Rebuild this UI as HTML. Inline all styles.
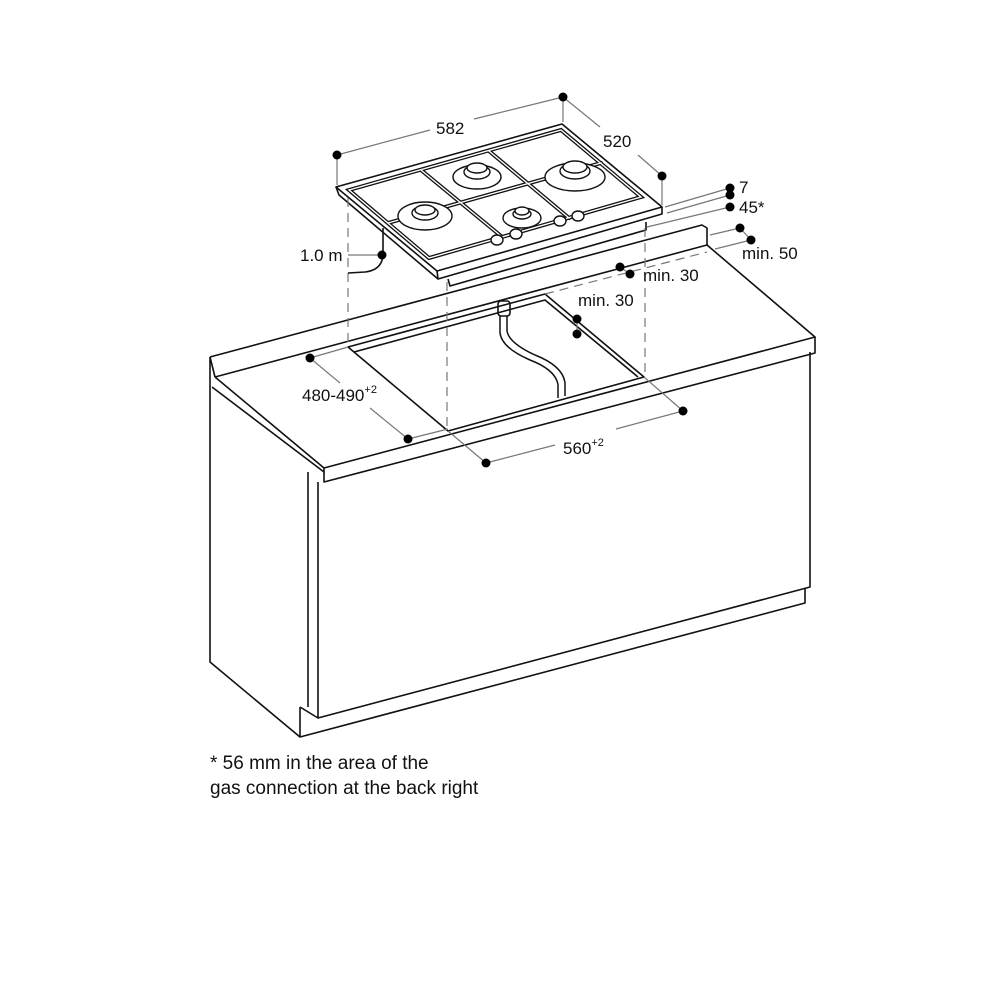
<!DOCTYPE html>
<html><head><meta charset="utf-8"><style>
html,body{margin:0;padding:0;background:#fff}
svg{display:block}
text{font-family:"Liberation Sans",Arial,sans-serif;fill:#111}
</style></head><body>
<svg width="1000" height="1000" viewBox="0 0 1000 1000" xmlns="http://www.w3.org/2000/svg">
<g fill="none" stroke="#111" stroke-width="1.6" stroke-linejoin="round">
<polyline points="210,357 702,225 707,228 707,245"/>
<polyline points="210,357 210,662 300,737"/>
<polyline points="215,377 707,245"/>
<line x1="210" y1="357" x2="215" y2="377"/>
<polyline points="215,377 324,468 815,337 707,245"/>
<polyline points="212,387 324,472"/>
<polyline points="324,468 324,482 815,353 815,337"/>
<line x1="308" y1="472" x2="308" y2="707"/>
<polyline points="318,482 318,718 810,587 810,352"/>
<polyline points="300,707 300,737 805,603 805,588"/>
<line x1="300" y1="707" x2="318" y2="718"/>
<polygon points="348,347 545,294 644,377 448,431"/>
<polyline points="354,352 545,300 638,377"/>
<path d="M500,316 L500,333 Q502,348 530,360 Q556,370 558,385 L558,398" stroke-width="1.5"/>
<path d="M507,316 L507,331 Q509,343 535,355 Q563,366 565,383 L565,396" stroke-width="1.5"/>
<rect x="498" y="301" width="12" height="15" rx="3"/>
<polygon points="336,187 562,124 662,207 437,271"/>
<polyline points="336,187 339,195 438,279 662,214 662,207"/>
<line x1="437" y1="271" x2="438" y2="279"/>
<polyline points="448,279 450,286 646,230 646,222"/>
</g>
<g fill="none" stroke-linecap="round">
<g stroke="#111" stroke-width="4">
<polygon points="349,190 561,130 641,197 429,258"/>
<line x1="421" y1="170" x2="501" y2="236"/>
<line x1="489" y1="151" x2="569" y2="218"/>
<line x1="388" y1="223" x2="601" y2="163"/>
</g>
<g stroke="#fff" stroke-width="1.4">
<polygon points="349,190 561,130 641,197 429,258"/>
<line x1="421" y1="170" x2="501" y2="236"/>
<line x1="489" y1="151" x2="569" y2="218"/>
<line x1="388" y1="223" x2="601" y2="163"/>
</g>
</g>
<g stroke="#111" stroke-width="1.4" fill="#fff">
<ellipse cx="425" cy="216" rx="27" ry="14"/>
<ellipse cx="425" cy="213" rx="13" ry="7"/>
<ellipse cx="425" cy="210" rx="10" ry="5"/>
<ellipse cx="477" cy="177" rx="24" ry="12"/>
<ellipse cx="477" cy="172" rx="13" ry="7"/>
<ellipse cx="477" cy="168" rx="10" ry="5"/>
<ellipse cx="575" cy="177" rx="30" ry="14"/>
<ellipse cx="575" cy="171" rx="15" ry="8"/>
<ellipse cx="575" cy="167" rx="12" ry="6"/>
<ellipse cx="522" cy="218" rx="19" ry="10"/>
<ellipse cx="522" cy="214" rx="9" ry="5"/>
<ellipse cx="522" cy="211" rx="7" ry="4"/>
<ellipse cx="497" cy="240" rx="6" ry="5"/>
<ellipse cx="516" cy="234" rx="6" ry="5"/>
<ellipse cx="560" cy="221" rx="6" ry="5"/>
<ellipse cx="578" cy="216" rx="6" ry="5"/>
</g>
<g stroke="#777" stroke-width="1.2" stroke-dasharray="9,6" fill="none">
<line x1="348" y1="198" x2="348" y2="347"/>
<line x1="447" y1="282" x2="447" y2="431"/>
<line x1="645" y1="228" x2="645" y2="377"/>
<line x1="545" y1="294" x2="707" y2="252"/>
</g>
<g stroke="#777" stroke-width="1.2" fill="none">
<line x1="337" y1="155" x2="337" y2="185"/>
<line x1="337" y1="155" x2="430" y2="130"/>
<line x1="474" y1="119" x2="563" y2="97"/>
<line x1="563" y1="97" x2="563" y2="122"/>
<line x1="563" y1="97" x2="600" y2="127"/>
<line x1="638" y1="155" x2="662" y2="176"/>
<line x1="662" y1="176" x2="662" y2="205"/>
<line x1="665" y1="207" x2="730" y2="188"/>
<line x1="667" y1="213" x2="730" y2="195"/>
<line x1="647" y1="227" x2="730" y2="207"/>
<line x1="710" y1="235" x2="740" y2="228"/>
<line x1="740" y1="228" x2="751" y2="240"/>
<line x1="715" y1="249" x2="751" y2="240"/>
<line x1="620" y1="267" x2="630" y2="274"/>
<line x1="577" y1="319" x2="577" y2="334"/>
<line x1="310" y1="358" x2="348" y2="347"/>
<line x1="310" y1="358" x2="340" y2="383"/>
<line x1="370" y1="408" x2="408" y2="439"/>
<line x1="408" y1="439" x2="448" y2="429"/>
<line x1="448" y1="431" x2="486" y2="463"/>
<line x1="486" y1="463" x2="555" y2="445"/>
<line x1="616" y1="429" x2="683" y2="411"/>
<line x1="683" y1="411" x2="644" y2="377"/>
<line x1="348" y1="255" x2="382" y2="255"/>
</g>
<path d="M383,228 L383,255 Q382,270 365,272 L348,273" fill="none" stroke="#111" stroke-width="1.6"/>
<g fill="#000">
<circle cx="337" cy="155" r="4.5"/><circle cx="563" cy="97" r="4.5"/><circle cx="662" cy="176" r="4.5"/>
<circle cx="730" cy="188" r="4.5"/><circle cx="730" cy="195" r="4.5"/><circle cx="730" cy="207" r="4.5"/>
<circle cx="740" cy="228" r="4.5"/><circle cx="751" cy="240" r="4.5"/>
<circle cx="620" cy="267" r="4.5"/><circle cx="630" cy="274" r="4.5"/>
<circle cx="577" cy="319" r="4.5"/><circle cx="577" cy="334" r="4.5"/>
<circle cx="310" cy="358" r="4.5"/><circle cx="408" cy="439" r="4.5"/>
<circle cx="486" cy="463" r="4.5"/><circle cx="683" cy="411" r="4.5"/>
<circle cx="382" cy="255" r="4.5"/>
</g>
<g font-size="17">
<text x="436" y="134">582</text>
<text x="603" y="147">520</text>
<text x="739" y="193">7</text>
<text x="739" y="213">45*</text>
<text x="742" y="259">min. 50</text>
<text x="643" y="281">min. 30</text>
<text x="578" y="306">min. 30</text>
<text x="300" y="261">1.0 m</text>
<text x="302" y="401">480-490<tspan font-size="11" dy="-8">+2</tspan></text>
<text x="563" y="454">560<tspan font-size="11" dy="-8">+2</tspan></text>
</g>
<g font-size="19">
<text x="210" y="769">* 56 mm in the area of the</text>
<text x="210" y="794">gas connection at the back right</text>
</g>
</svg>
</body></html>
